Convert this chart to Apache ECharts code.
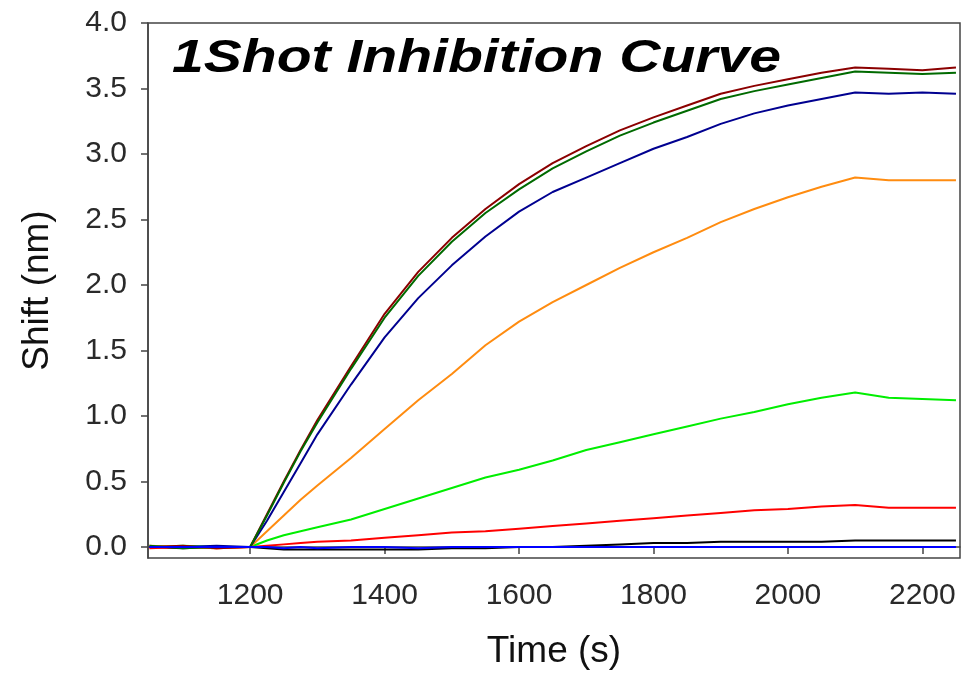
<!DOCTYPE html>
<html><head><meta charset="utf-8">
<script src="https://cdn.jsdelivr.net/npm/echarts@6/dist/echarts.min.js"></script>
<style>html,body{margin:0;padding:0;background:#fff}#c{width:972px;height:676px}</style>
</head><body><div id="c"></div>
<script>
const times = [1050,1100,1150,1200,1225,1250,1275,1300,1350,1400,1450,1500,1550,1600,1650,1700,1750,1800,1850,1900,1950,2000,2050,2100,2150,2200,2250];
const maroon = [0.00,0.01,-0.01,0.00,0.25,0.50,0.74,0.97,1.38,1.78,2.10,2.36,2.58,2.77,2.93,3.06,3.18,3.28,3.37,3.46,3.52,3.57,3.62,3.66,3.65,3.64,3.66];
const darkGreen = [0.01,-0.01,0.00,0.00,0.24,0.49,0.73,0.95,1.36,1.75,2.07,2.33,2.55,2.73,2.89,3.02,3.14,3.24,3.33,3.42,3.48,3.53,3.58,3.63,3.62,3.61,3.62];
const navy = [0.00,0.00,0.01,0.00,0.20,0.42,0.64,0.86,1.24,1.60,1.90,2.15,2.37,2.56,2.71,2.82,2.93,3.04,3.13,3.23,3.31,3.37,3.42,3.47,3.46,3.47,3.46];
const orange = [0.01,0.00,-0.01,0.00,0.12,0.24,0.36,0.47,0.68,0.90,1.12,1.32,1.54,1.72,1.87,2.00,2.13,2.25,2.36,2.48,2.58,2.67,2.75,2.82,2.80,2.80,2.80];
const lime = [0.00,0.01,0.00,0.00,0.05,0.09,0.12,0.15,0.21,0.29,0.37,0.45,0.53,0.59,0.66,0.74,0.80,0.86,0.92,0.98,1.03,1.09,1.14,1.18,1.14,1.13,1.12];
const red = [-0.01,0.00,-0.01,0.00,0.01,0.02,0.03,0.04,0.05,0.07,0.09,0.11,0.12,0.14,0.16,0.18,0.20,0.22,0.24,0.26,0.28,0.29,0.31,0.32,0.30,0.30,0.30];
const black = [0.00,-0.01,0.00,0.00,-0.01,-0.02,-0.02,-0.02,-0.02,-0.02,-0.02,-0.01,-0.01,0.00,0.00,0.01,0.02,0.03,0.03,0.04,0.04,0.04,0.04,0.05,0.05,0.05,0.05];
const blue = [0.00,0.00,0.00,0.00,0.00,-0.01,0.00,-0.01,0.00,0.00,-0.01,0.00,0.00,0.00,0.00,0.00,0.00,0.00,0.00,0.00,0.00,0.00,0.00,0.00,0.00,0.00,0.00];
const xTicks = [1200,1400,1600,1800,2000,2200];
const yTicks = [0,0.5,1.0,1.5,2.0,2.5,3.0,3.5,4.0];
const titleText = '1Shot Inhibition Curve';

const seriesDefs = [
  {name:'black', data:black, color:'#000000'},
  {name:'red', data:red, color:'#ff0000'},
  {name:'lime', data:lime, color:'#00ee00'},
  {name:'orange', data:orange, color:'#ff8c10'},
  {name:'navy', data:navy, color:'#000090'},
  {name:'maroon', data:maroon, color:'#8b0000'},
  {name:'darkGreen', data:darkGreen, color:'#006a00'},
  {name:'blue', data:blue, color:'#0000ff'}
];

const chart = echarts.init(document.getElementById('c'), null, {renderer:'canvas'});
const font = 'Arial, "Liberation Sans", sans-serif';
chart.setOption({
  animation:false,
  backgroundColor:'#fff',
  graphic:[{type:'text', x:172, y:36, scaleX:1.215, scaleY:1, z:10,
    style:{text:titleText, fontFamily:font, fontStyle:'italic', fontWeight:'bold', fontSize:47, fill:'#000', textVerticalAlign:'top'}}],
  grid:{left:148, right:12, top:23, bottom:118, show:true, borderColor:'#444', borderWidth:1.5, backgroundColor:'transparent'},
  xAxis:{type:'value', min:1048, max:2256, name:'Time (s)', nameLocation:'middle', nameGap:75,
    nameTextStyle:{fontFamily:font, fontSize:37, color:'#111'},
    axisLine:{lineStyle:{color:'#444', width:1.5}},
    axisTick:{customValues:xTicks, length:7, lineStyle:{color:'#444', width:1.5}},
    axisLabel:{customValues:xTicks, fontFamily:font, fontSize:30, color:'#2a2a2a', margin:23,
      formatter:v=>String(v)},
    splitLine:{show:false}},
  yAxis:{type:'value', min:-0.084, max:4.0, name:'Shift (nm)', nameLocation:'middle', nameGap:92,
    nameTextStyle:{fontFamily:font, fontSize:37, color:'#111'},
    axisLine:{show:true, lineStyle:{color:'#444', width:1.5}},
    axisTick:{show:true, customValues:yTicks, length:7, lineStyle:{color:'#444', width:1.5}},
    axisLabel:{customValues:yTicks, fontFamily:font, fontSize:30, color:'#2a2a2a', margin:21,
      formatter:v=>Number(v).toFixed(1)},
    splitLine:{show:false}},
  series: seriesDefs.map(s=>({
    type:'line', name:s.name, showSymbol:false, symbol:'none',
    data: times.map((t,i)=>[t, s.data[i]]),
    lineStyle:{color:s.color, width:2}, itemStyle:{color:s.color}
  }))
});
</script></body></html>
